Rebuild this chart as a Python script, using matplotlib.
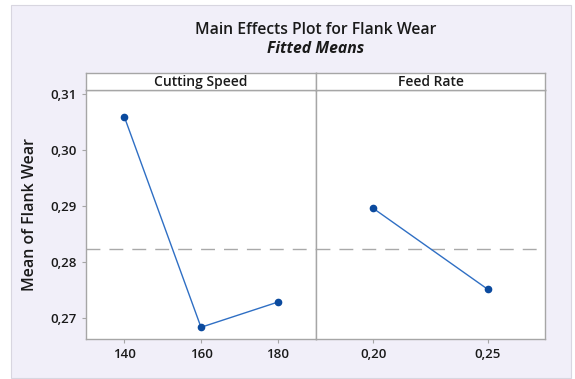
import matplotlib.pyplot as plt
from matplotlib.patches import Rectangle

plt.rcParams['font.family'] = ['Open Sans', 'DejaVu Sans']

# Data
speed_levels = [140, 160, 180]
speed_means = [0.3060, 0.2683, 0.2728]
feed_levels = [0.20, 0.25]
feed_means = [0.2896, 0.2751]
grand_mean = 0.2824
y_ticks = [0.27, 0.28, 0.29, 0.30, 0.31]

W, H = 575, 379
fig = plt.figure(figsize=(W / 100, H / 100), dpi=100)
fig.patch.set_facecolor('white')

# lavender background panel
fig.add_artist(Rectangle((11 / W, 1 - 378 / H), 560 / W, 373 / H,
                         transform=fig.transFigure, facecolor='#F1EFF9',
                         edgecolor='#D8D6E0', linewidth=0.8, zorder=-10))

line_col = '#2F6FC4'
mark_col = '#0B4A9E'
spine_col = '#A6A6A6'
txt_col = '#1A1A1A'

bottom = (H - 339) / H
height = 249 / H
ax1 = fig.add_axes([86 / W, bottom, 230 / W, height])
ax2 = fig.add_axes([316 / W, bottom, 229 / W, height], sharey=ax1)


def fmt(v, nd):
    return f'{v:.{nd}f}'.replace('.', ',')


def style(ax):
    ax.set_facecolor('white')
    for s in ax.spines.values():
        s.set_color(spine_col)
        s.set_linewidth(1.0)
    ax.tick_params(colors=txt_col, labelsize=9.5, length=3, color=spine_col)
    for lab in ax.get_xticklabels() + ax.get_yticklabels():
        lab.set_fontweight('semibold')
    ax.axhline(grand_mean, color='#A9A9A9', lw=1.0, dashes=(10, 6.5), zorder=1)


ax1.plot(speed_levels, speed_means, color=line_col, lw=1.0, zorder=3)
ax1.plot(speed_levels, speed_means, 'o', color=mark_col, ms=4.5, zorder=4)
ax2.plot(feed_levels, feed_means, color=line_col, lw=1.0, zorder=3)
ax2.plot(feed_levels, feed_means, 'o', color=mark_col, ms=4.5, zorder=4)

ax1.set_xlim(130, 190)
ax1.set_xticks(speed_levels)
ax1.set_xticklabels([str(v) for v in speed_levels])
ax2.set_xlim(0.175, 0.275)
ax2.set_xticks(feed_levels)
ax2.set_xticklabels([fmt(v, 2) for v in feed_levels])

ax1.set_ylim(0.2662, 0.3108)
ax1.set_yticks(y_ticks)
ax1.set_yticklabels([fmt(v, 2) for v in y_ticks])
ax2.tick_params(axis='y', left=False, labelleft=False)

style(ax1)
style(ax2)
ax1.set_ylabel('Mean of Flank Wear', fontsize=11.5, fontweight='semibold',
               color=txt_col, labelpad=9)

# panel header strips
strip_bottom = (H - 90) / H
strip_h = 17 / H
for x0, w, label in [(86, 230, 'Cutting Speed'), (316, 229, 'Feed Rate')]:
    sax = fig.add_axes([x0 / W, strip_bottom, w / W, strip_h])
    sax.set_facecolor('white')
    sax.set_xticks([])
    sax.set_yticks([])
    for s in sax.spines.values():
        s.set_color(spine_col)
        s.set_linewidth(1.0)
    sax.text(0.5, 0.45, label, ha='center', va='center', fontsize=10,
             fontweight='semibold', color=txt_col, transform=sax.transAxes)

fig.text(315.5 / W, 1 - 30 / H, 'Main Effects Plot for Flank Wear',
         ha='center', va='center', fontsize=11.3, fontweight='semibold',
         color=txt_col)
fig.text(315.5 / W, 1 - 49 / H, 'Fitted Means', ha='center', va='center',
         fontsize=11.3, style='italic', fontweight='bold', color=txt_col)

fig.savefig('out.png', dpi=100)
